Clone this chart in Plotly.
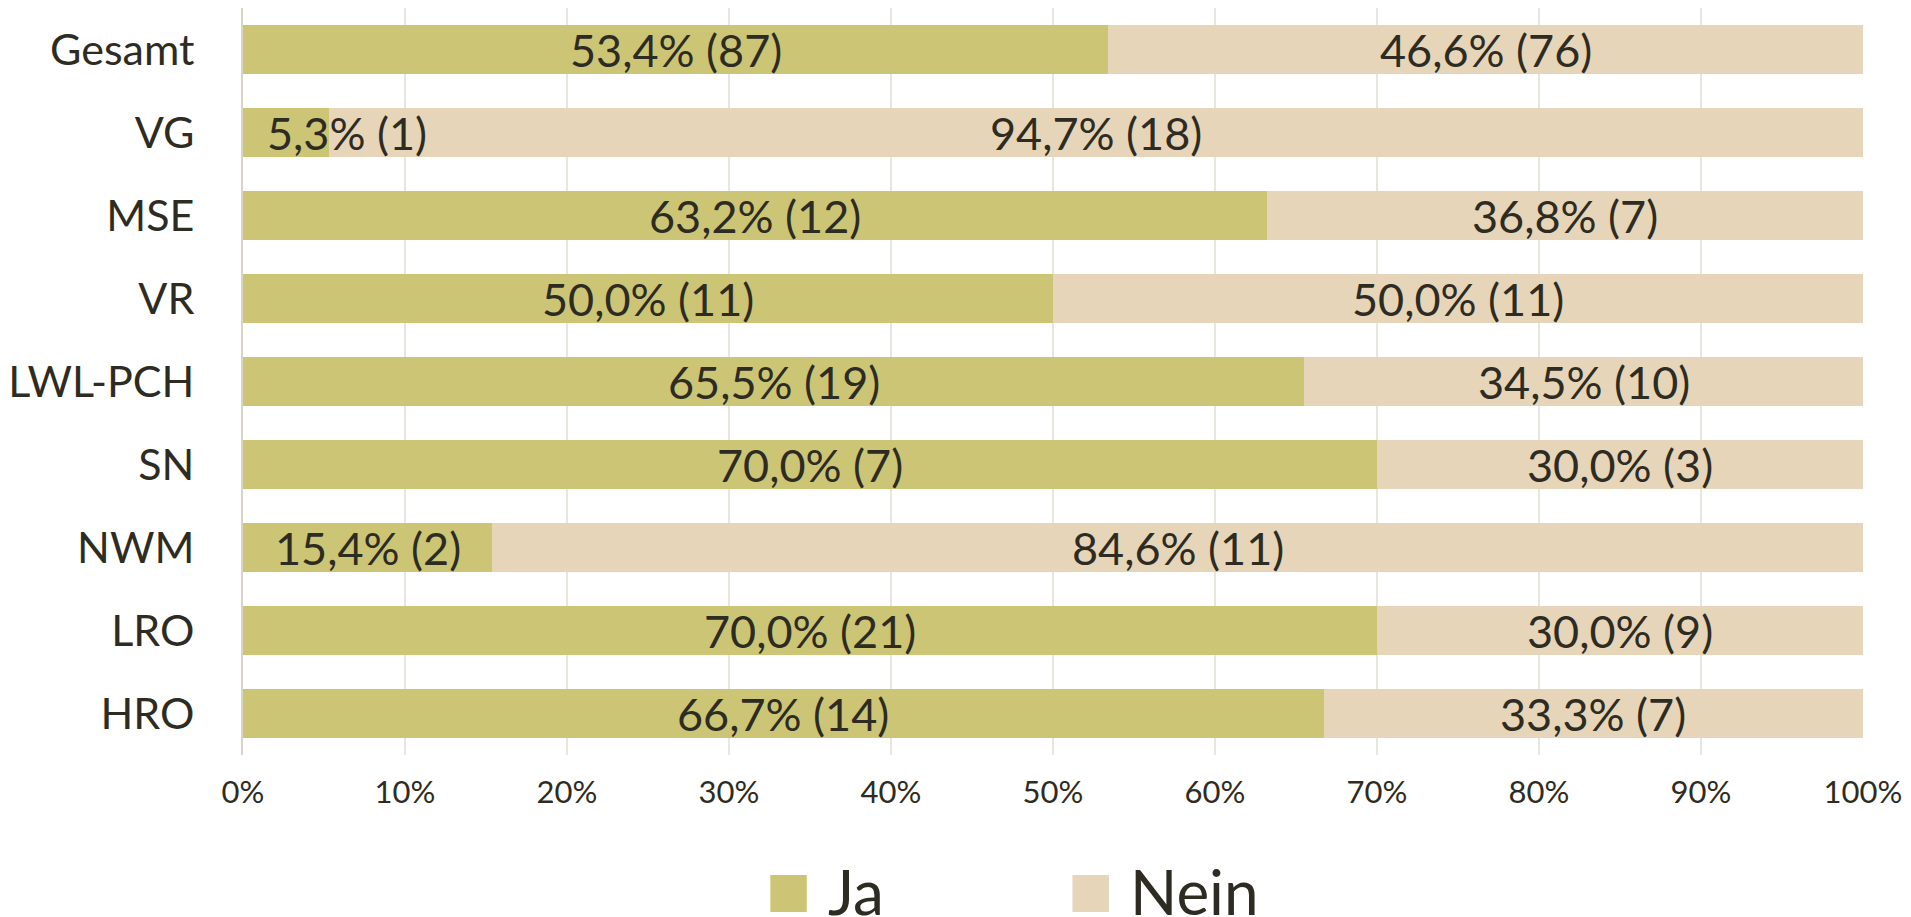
import plotly.graph_objects as go

categories = ["Gesamt", "VG", "MSE", "VR", "LWL-PCH", "SN", "NWM", "LRO", "HRO"]
ja_pct = [53.4, 5.3, 63.2, 50.0, 65.5, 70.0, 15.4, 70.0, 66.7]
ja_n = [87, 1, 12, 11, 19, 7, 2, 21, 14]
nein_pct = [46.6, 94.7, 36.8, 50.0, 34.5, 30.0, 84.6, 30.0, 33.3]
nein_n = [76, 18, 7, 11, 10, 3, 11, 9, 7]
x_ticks = [0, 10, 20, 30, 40, 50, 60, 70, 80, 90, 100]
x_tick_labels = [f"{t}%" for t in x_ticks]

JA_COLOR = "#CCC576"
NEIN_COLOR = "#E7D5B9"
TEXT_COLOR = "#2E2C22"
FONT = "Lato"
LABEL_SIZE = 45

def fmt(p, n):
    return f"{p:.1f}".replace(".", ",") + f"% ({n})"

fig = go.Figure()
fig.add_trace(go.Bar(y=categories, x=ja_pct, orientation="h", name="Ja",
                     marker=dict(color=JA_COLOR, line=dict(width=0)), showlegend=False))
fig.add_trace(go.Bar(y=categories, x=nein_pct, orientation="h", name="Nein",
                     marker=dict(color=NEIN_COLOR, line=dict(width=0)), showlegend=False))

annotations = []
for c, jp, jn, np_, nn in zip(categories, ja_pct, ja_n, nein_pct, nein_n):
    if jp < 8:
        annotations.append(dict(x=0, y=c, xref="x", yref="y", text=fmt(jp, jn),
                                xanchor="left", xshift=22, showarrow=False,
                                font=dict(size=LABEL_SIZE, color=TEXT_COLOR, family=FONT)))
    else:
        annotations.append(dict(x=jp / 2, y=c, xref="x", yref="y", text=fmt(jp, jn),
                                xanchor="center", showarrow=False,
                                font=dict(size=LABEL_SIZE, color=TEXT_COLOR, family=FONT)))
    annotations.append(dict(x=jp + np_ / 2, y=c, xref="x", yref="y", text=fmt(np_, nn),
                            xanchor="center", showarrow=False,
                            font=dict(size=LABEL_SIZE, color=TEXT_COLOR, family=FONT)))

# manual legend (large square swatches)
shapes = []
legend_items = [("Ja", JA_COLOR, 0.3255), ("Nein", NEIN_COLOR, 0.512)]
for name, col, x0 in legend_items:
    shapes.append(dict(type="rect", xref="paper", yref="paper",
                       x0=x0, x1=x0 + 0.0225, y0=-0.2102, y1=-0.1606,
                       fillcolor=col, line=dict(width=0)))
    annotations.append(dict(x=x0 + 0.0345, y=-0.1854, xref="paper", yref="paper",
                            text=name, xanchor="left", yanchor="middle", showarrow=False,
                            yshift=2,
                            font=dict(size=62, color=TEXT_COLOR, family=FONT)))

fig.update_layout(
    width=1911, height=917, autosize=False,
    margin=dict(l=230, r=56, t=0, b=170, pad=0),
    barmode="stack", bargap=0.42,
    plot_bgcolor="white", paper_bgcolor="white",
    font=dict(family=FONT, color=TEXT_COLOR),
    annotations=annotations, shapes=shapes,
    showlegend=False,
)
fig.update_xaxes(range=[0, 100], tickvals=x_ticks, ticktext=x_tick_labels,
                 showgrid=True, gridcolor="rgba(190,183,160,0.35)", gridwidth=2,
                 zeroline=False, layer="above traces",
                 tickfont=dict(size=31, color=TEXT_COLOR, family=FONT),
                 ticklabelstandoff=16, fixedrange=True)
fig.update_yaxes(categoryorder="array", categoryarray=categories, autorange="reversed",
                 showline=True, linecolor="rgba(190,183,160,0.6)", linewidth=2,
                 showgrid=False, layer="above traces",
                 tickfont=dict(size=43, color=TEXT_COLOR, family=FONT),
                 ticklabelstandoff=38, fixedrange=True)

fig.write_html("out.html")
